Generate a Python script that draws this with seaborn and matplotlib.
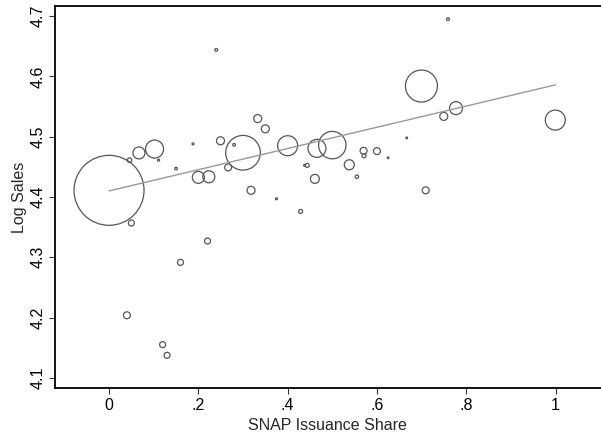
import numpy as np
import pandas as pd
import matplotlib
matplotlib.use("Agg")
import matplotlib.pyplot as plt
import seaborn as sns

# Values
snap_share = [0.000, 0.046, 0.067, 0.102, 0.111, 0.150, 0.188, 0.240, 0.200, 0.2235,
              0.2496, 0.300, 0.280, 0.2668, 0.333, 0.350, 0.318, 0.375, 0.429, 0.400,
              0.438, 0.444, 0.461, 0.4656, 0.500, 0.759, 0.6996, 0.777, 0.7496, 0.9993,
              0.6667, 0.570, 0.571, 0.600, 0.625, 0.538, 0.555, 0.709, 0.050, 0.2205,
              0.160, 0.040, 0.120, 0.130]
log_sales = [4.411, 4.461, 4.473, 4.4795, 4.461, 4.447, 4.488, 4.644, 4.4325, 4.4335,
             4.4932, 4.4733, 4.4866, 4.449, 4.530, 4.513, 4.411, 4.397, 4.376, 4.485,
             4.4524, 4.4524, 4.430, 4.4806, 4.486, 4.695, 4.584, 4.5474, 4.5337, 4.5275,
             4.498, 4.4766, 4.4683, 4.4761, 4.465, 4.4534, 4.4335, 4.411, 4.3567, 4.3269,
             4.2915, 4.2037, 4.155, 4.1373]
weight = [1225, 5, 36, 81, 1, 1.7, 1, 2, 36, 36,
          16, 300, 1.7, 12, 16, 16, 16, 1, 4, 100,
          1, 4, 20, 81, 188, 2, 256, 42, 16, 100,
          0.7, 12, 4, 12, 0.7, 25, 3, 12, 9, 9,
          9, 12, 9, 9]

# fitted line (weighted regression)
fit_intercept = 4.410
fit_slope = 0.176

x_ticks = [0, 0.2, 0.4, 0.6, 0.8, 1.0]
x_tick_labels = ["0", ".2", ".4", ".6", ".8", "1"]
y_ticks = [4.1, 4.2, 4.3, 4.4, 4.5, 4.6, 4.7]

df = pd.DataFrame({"share": snap_share, "logsales": log_sales, "w": weight})
fit_x = np.array([0.0, 1.0])
fit_df = pd.DataFrame({"share": fit_x, "fit": fit_intercept + fit_slope * fit_x})

sns.set_theme(style="white")
plt.rcParams["font.family"] = ["Liberation Sans", "DejaVu Sans"]

fig = plt.figure(figsize=(6.01, 4.36), dpi=100)
ax = fig.add_axes([0.0915, 0.110, 0.908, 0.876])

sns.scatterplot(data=df, x="share", y="logsales", size="w",
                sizes=(0, 2540), size_norm=(0, 1225), legend=False,
                facecolors="none", edgecolor="#555555", linewidth=0.9, ax=ax)
sns.lineplot(data=fit_df, x="share", y="fit", color="#999999", linewidth=1.0, ax=ax)

ax.set_xlim(-0.121, 1.101)
ax.set_ylim(4.083, 4.7166)
ax.set_xticks(x_ticks)
ax.set_xticklabels(x_tick_labels)
ax.set_yticks(y_ticks)
ax.set_yticklabels([f"{v:.1f}" for v in y_ticks], rotation=90, va="center")
ax.tick_params(axis="both", direction="out", length=4, width=0.8, color="#333333",
               labelsize=11.5, labelcolor="black", pad=3, bottom=True, left=True)
ax.set_xlabel("SNAP Issuance Share", fontsize=11.5, labelpad=3.5)
ax.set_ylabel("Log Sales", fontsize=11.5, labelpad=2)

for side in ["left", "bottom", "top"]:
    ax.spines[side].set_color("black")
    ax.spines[side].set_linewidth(1.3)
ax.spines["right"].set_visible(False)

fig.savefig("out.png", dpi=100)
